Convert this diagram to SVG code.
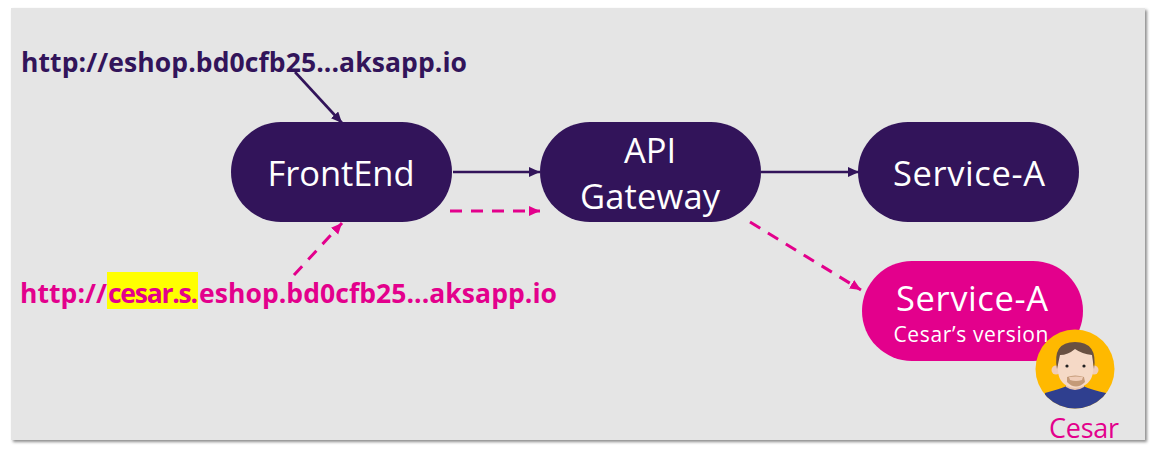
<svg xmlns="http://www.w3.org/2000/svg" width="1162" height="454" viewBox="0 0 1162 454">
<style>
.n{fill:#32145a}
.t{font-family:"Open Sans","Noto Sans","Liberation Sans",sans-serif;fill:#fff;text-anchor:middle;font-size:34.5px}
.u{font-family:"Open Sans","Noto Sans","Liberation Sans",sans-serif;font-weight:700;font-size:26.5px}
.c{fill:none}
.d{stroke:#32145a;stroke-width:2.6}
.p{stroke:#e3008c;stroke-width:3;stroke-dasharray:12 9}
</style>
<defs>
<marker id="ad" markerUnits="userSpaceOnUse" markerWidth="13" markerHeight="11" refX="11" refY="5" orient="auto"><path d="M0 0L11 5L0 10z" fill="#32145a"/></marker>
<marker id="ap" markerUnits="userSpaceOnUse" markerWidth="13" markerHeight="11" refX="11" refY="5" orient="auto"><path d="M0 0L11 5L0 10z" fill="#e3008c"/></marker>
<filter id="s" x="-2%" y="-4%" width="104%" height="108%"><feDropShadow dx="2" dy="2" stdDeviation="1.5" flood-color="#000" flood-opacity=".45"/></filter>
<clipPath id="av"><circle cx="1075" cy="368" r="39.5"/></clipPath>
</defs>
<rect id="background" x="11" y="8" width="1134" height="432" fill="#e5e5e5" filter="url(#s)"/>
<g id="connectors">
<path class="c d" marker-end="url(#ad)" d="M295 72L342 123"/>
<path class="c d" marker-end="url(#ad)" d="M453 172L540 172"/>
<path class="c d" marker-end="url(#ad)" d="M761 172L859 172"/>
<path class="c p" marker-end="url(#ap)" d="M294 275L342 223"/>
<path class="c p" marker-end="url(#ap)" d="M450 211L540 211"/>
<path class="c p" marker-end="url(#ap)" d="M750 222L861 290"/>
</g>
<g id="url-main"><text class="u" x="21" y="72" fill="#32145a" textLength="446">http://eshop.bd0cfb25...aksapp.io</text></g>
<g id="url-cesar">
<rect x="107" y="272" width="91" height="37" fill="#ff0"/>
<text class="u" y="303" fill="#e3008c"><tspan x="20" textLength="87">http://</tspan><tspan x="108" textLength="90">cesar.s.</tspan><tspan x="199" textLength="358">eshop.bd0cfb25...aksapp.io</tspan></text>
</g>
<g id="frontend"><rect class="n" x="231" y="122" width="221" height="100" rx="50"/><text class="t" x="341" y="186" textLength="147">FrontEnd</text></g>
<g id="gateway"><rect class="n" x="540" y="122" width="221" height="100" rx="50"/><text class="t" x="650" y="163">API</text><text class="t" x="650" y="209" textLength="140">Gateway</text></g>
<g id="service-a"><rect class="n" x="858" y="122" width="221" height="100" rx="50"/><text class="t" x="969" y="186" textLength="152">Service-A</text></g>
<g id="service-a-cesar"><rect x="862" y="261" width="221" height="100" rx="50" fill="#e3008c"/><text class="t" x="972" y="311" textLength="152">Service-A</text><text class="t" x="971" y="342" style="font-size:21px" textLength="155">Cesar’s version</text></g>
<g id="cesar-avatar">
<circle cx="1075" cy="369" r="39.5" fill="#ffb900"/>
<g clip-path="url(#av)" transform="translate(0 1)">
<path d="M1045 392Q1060 388 1067 385L1083 385Q1092 389 1106 392L1106 410L1045 410z" fill="#2f3f8f"/>
<path d="M1066 378h18v8q-9 6-18 0z" fill="#e8c4ad"/>
<circle cx="1056" cy="369" r="4.5" fill="#f0cdb8"/><circle cx="1094" cy="369" r="4.5" fill="#f0cdb8"/>
<path d="M1058 358Q1058 345 1075 345Q1093 345 1093 358V370Q1092 385 1075 387Q1059 385 1058 370z" fill="#f5d9c6"/>
<path d="M1057 368Q1052 341 1075 341Q1098 341 1094 368L1092 354Q1082 353 1075 348Q1068 354 1060 354z" fill="#695142"/>
<circle cx="1067" cy="365" r="1.6" fill="#222"/><circle cx="1084" cy="365" r="1.6" fill="#222"/>
<path d="M1067 376Q1075 373 1084 376L1085 381Q1076 390 1067 381z" fill="#c49a78"/>
<path d="M1069 376Q1076 375 1083 376L1082 379Q1076 381 1070 379z" fill="#f0cdb8"/>
</g>
</g>
<g id="cesar-label"><text x="1084" y="438" font-family="'Open Sans','Noto Sans','Liberation Sans',sans-serif" font-size="27" fill="#e3008c" text-anchor="middle" textLength="70">Cesar</text></g>
</svg>
